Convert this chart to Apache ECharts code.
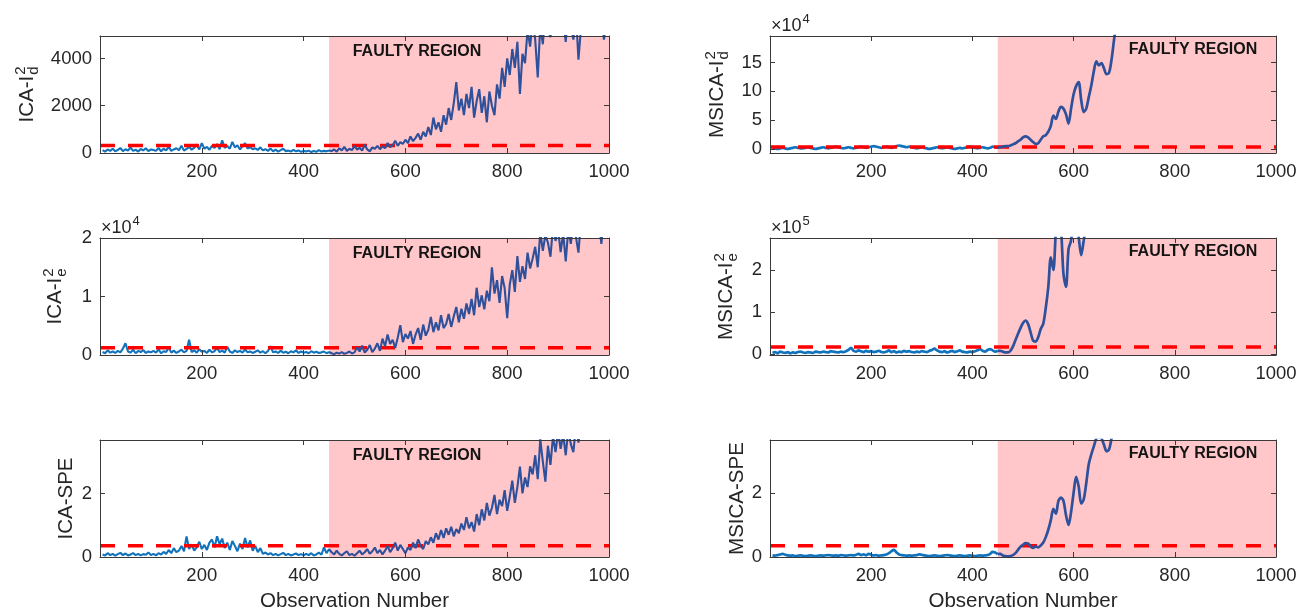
<!DOCTYPE html>
<html><head><meta charset="utf-8">
<script src="https://cdn.jsdelivr.net/npm/echarts@6/dist/echarts.min.js"></script>
<style>html,body{margin:0;padding:0;background:#fff}#c{width:1303px;height:615px}</style>
</head><body><div id="c"></div>
<script>
const FONT = '"Liberation Sans", Arial, Helvetica, sans-serif';
const OBS_STEP = 5;          // one value every 5 observations
const FAULT_START = 450;
const OBS_MAX = 1000;
const X_TICKS = [200, 400, 600, 800, 1000];

// ---- ICA-Id^2 (raw) ----
const icaId2Normal = [
 120,60,150,90,180,70,130,210,80,160,100,240,90,140,60,170,110,200,80,150,
 130,90,220,70,180,110,260,90,150,200,120,310,100,170,260,140,220,360,150,420,
 180,260,140,300,210,380,160,540,220,300,180,470,240,330,150,280,420,190,250,160,
 200,130,240,110,160,90,190,70,140,60,120,180,80,100,60,130,70,110,50,90,
 60,100,40,80,50,120,60,90,70,110];
const icaId2Fault = [
 80,150,60,200,110,260,90,180,120,300,
 140,220,100,360,150,70,240,180,300,160,
 280,200,420,250,330,520,300,460,380,560,
 420,700,500,640,820,560,900,700,1100,760,
 1500,1000,1300,900,1600,1200,1900,1400,2100,3000,
 1800,2300,1600,2500,1900,2800,1500,2200,2700,1700,
 2400,1300,2600,2000,1600,2900,2300,3600,2800,4000,
 3300,4400,3600,4700,2500,4200,3800,5200,4500,5600,
 4800,3200,5400,4600,6000,5200,4900,5800,5300,6200,
 5000,5600,4700,6100,5400,4800,5900,3950,5300,6000,
 5500,6300,5100,5800,6400,5600,6100,4800,5500,6200];
const icaId2Limit = 320;
const icaId2Ticks = [0, 2000, 4000];

// ---- ICA-Ie^2 (raw) ----
const icaIe2Normal = [
 500,300,800,400,600,350,700,450,1100,2000,600,400,900,300,700,500,850,350,600,450,
 700,400,950,300,650,500,1300,400,750,350,600,900,450,700,2600,500,800,400,1000,550,
 700,350,900,450,650,1200,500,750,400,1400,600,350,800,500,700,400,950,450,600,350,
 550,800,400,650,300,700,1500,450,600,350,750,400,550,300,650,450,800,350,600,400,
 500,300,650,400,550,350,450,600,300,500];
const icaIe2Fault = [
 300,150,400,250,500,200,350,600,250,450,
 1300,600,1600,400,900,1700,500,1100,2000,700,
 2800,1500,3500,1900,2600,1200,3000,5100,2200,3600,
 2800,4100,1900,3500,4600,2600,5200,3300,4300,6500,
 3900,5600,4200,6800,4600,5300,7000,4800,6600,8200,
 5600,7900,6200,8800,7000,9600,6800,11500,8200,10200,
 7800,11000,9200,15000,10500,12800,8900,13500,11400,6300,
 12000,14500,10800,16900,12500,15200,13000,17500,14800,16500,
 18500,15000,21000,17800,20500,19200,16800,22000,19500,21500,
 17600,20800,16000,21500,19000,22500,20200,17500,23000,21000,
 22500,20500,23500,21800,24000,22800,19000,23500,24500,22000];
const icaIe2Limit = 1250;
const icaIe2Ticks = [0, 10000, 20000];

// ---- ICA-SPE ----
const icaSpeNormal = [
 0.08,0.05,0.12,0.06,0.10,0.04,0.09,0.13,0.06,0.11,0.05,0.08,0.12,0.06,0.10,0.05,0.09,0.07,0.14,0.06,
 0.10,0.05,0.12,0.08,0.16,0.10,0.22,0.12,0.28,0.15,0.20,0.35,0.18,0.65,0.25,0.40,0.20,0.30,0.48,0.25,
 0.38,0.22,0.45,0.55,0.30,0.65,0.40,0.58,0.28,0.45,0.22,0.50,0.35,0.18,0.42,0.25,0.60,0.30,0.52,0.20,
 0.35,0.15,0.28,0.10,0.14,0.08,0.12,0.06,0.10,0.05,0.09,0.13,0.06,0.10,0.05,0.08,0.11,0.06,0.09,0.05,
 0.10,0.06,0.12,0.05,0.08,0.14,0.07,0.30,0.12,0.25];
const icaSpeFault = [
 0.15,0.08,0.20,0.10,0.05,0.12,0.18,0.06,0.10,0.04,
 0.12,0.20,0.08,0.15,0.25,0.10,0.18,0.30,0.12,0.22,
 0.08,0.20,0.35,0.15,0.28,0.45,0.20,0.38,0.25,0.12,
 0.30,0.22,0.45,0.28,0.55,0.35,0.25,0.50,0.40,0.62,
 0.45,0.75,0.55,0.85,0.60,0.90,0.70,0.95,0.65,0.88,
 0.75,1.05,0.85,1.25,0.90,1.10,0.80,1.35,1.00,1.50,
 1.15,1.70,1.30,1.55,1.95,1.35,1.80,1.60,2.10,1.45,
 1.90,2.40,1.70,2.20,2.84,2.00,2.50,2.20,2.85,2.60,
 3.20,2.45,3.70,3.00,2.37,3.50,2.90,3.80,3.30,3.95,
 3.40,3.85,3.20,4.00,3.55,3.30,4.10,3.60,4.20,3.90,
 4.30,4.00,4.50,4.20,4.60,4.35,4.70,4.40,4.80,4.55];
const icaSpeLimit = 0.35;
const icaSpeTicks = [0, 2];

// ---- MSICA-Id^2 (x 10^4) ----
const msicaId2Normal = [
 0.2,0.1,0.0,0.1,0.2,0.1,0.0,0.1,0.2,0.3,0.2,0.1,0.1,0.2,0.3,0.2,0.1,0.0,0.1,0.2,
 0.3,0.2,0.1,0.2,0.3,0.4,0.3,0.2,0.1,0.2,0.3,0.2,0.1,0.2,0.3,0.4,0.3,0.2,0.3,0.4,
 0.5,0.4,0.3,0.2,0.3,0.4,0.3,0.2,0.3,0.5,0.6,0.5,0.4,0.3,0.4,0.3,0.2,0.1,0.2,0.3,
 0.2,0.1,0.0,0.1,0.2,0.3,0.2,0.1,0.2,0.3,0.2,0.1,0.0,0.1,0.2,0.1,0.2,0.3,0.4,0.3,
 0.2,0.1,0.2,0.3,0.2,0.1,0.2,0.4,0.3,0.2];
const msicaId2Fault = [
 0.3,0.4,0.5,0.5,0.6,0.8,1.0,1.3,1.6,2.0,
 2.2,2.0,1.6,1.2,0.9,1.0,1.6,2.2,2.4,3.0,
 4.0,5.8,5.2,6.5,7.3,7.0,6.0,4.4,7.0,9.5,
 10.9,11.6,8.5,6.4,7.0,9.0,11.0,13.5,15.2,14.5,
 14.9,14.0,13.0,13.2,15.5,19.0,22.0,24.0,26.0,28.0,
 30,32,31,34,36,35,38,40,39,42,
 44,43,46,48,47,50,52,51,54,56,
 55,58,60,59,62,64,63,66,68,67,
 70,72,71,74,76,75,78,80,79,82,
 84,83,86,88,87,90,92,91,94,96,
 95,98,100,99,102,104,103,106,108,107];
const msicaId2Limit = 0.35;
const msicaId2Ticks = [0, 5, 10, 15];

// ---- MSICA-Ie^2 (x 10^5) ----
const msicaIe2Normal = [
 0.03,0.05,0.02,0.06,0.04,0.03,0.05,0.02,0.04,0.03,0.05,0.06,0.04,0.03,0.05,0.04,0.03,0.06,0.05,0.04,
 0.06,0.05,0.04,0.07,0.06,0.05,0.04,0.06,0.05,0.07,0.10,0.15,0.08,0.06,0.09,0.07,0.05,0.08,0.06,0.07,
 0.05,0.06,0.08,0.05,0.04,0.06,0.09,0.05,0.07,0.04,0.06,0.05,0.08,0.06,0.07,0.05,0.04,0.06,0.05,0.07,
 0.06,0.05,0.08,0.10,0.13,0.09,0.06,0.05,0.07,0.04,0.06,0.08,0.05,0.07,0.09,0.06,0.05,0.04,0.06,0.05,
 0.07,0.09,0.12,0.08,0.06,0.10,0.12,0.09,0.06,0.08];
const msicaIe2Fault = [
 0.08,0.06,0.04,0.04,0.08,0.18,0.33,0.48,0.62,0.74,
 0.80,0.72,0.52,0.32,0.30,0.40,0.60,0.72,1.10,1.60,
 2.30,2.00,2.90,3.30,3.00,1.90,1.60,2.50,2.70,3.20,
 3.40,2.80,2.35,2.70,3.10,3.50,3.80,4.00,4.30,4.50,
 4.7,4.9,5.1,5.0,5.3,5.5,5.4,5.7,5.9,6.1,
 6.0,6.3,6.5,6.4,6.7,6.9,6.8,7.1,7.3,7.2,
 7.5,7.7,7.6,7.9,8.1,8.0,8.3,8.5,8.4,8.7,
 8.9,8.8,9.1,9.3,9.2,9.5,9.7,9.6,9.9,10.1,
 10.0,10.3,10.5,10.4,10.7,10.9,10.8,11.1,11.3,11.2,
 11.5,11.7,11.6,11.9,12.1,12.0,12.3,12.5,12.4,12.7,
 12.9,12.8,13.1,13.3,13.2,13.5,13.7,13.6,13.9,14.1];
const msicaIe2Limit = 0.17;
const msicaIe2Ticks = [0, 1, 2];

// ---- MSICA-SPE ----
const msicaSpeNormal = [
 0.05,0.04,0.06,0.08,0.10,0.07,0.05,0.04,0.05,0.03,0.04,0.05,0.04,0.03,0.04,0.05,0.04,0.03,0.04,0.05,
 0.04,0.05,0.06,0.05,0.04,0.05,0.04,0.06,0.05,0.04,0.05,0.06,0.05,0.07,0.10,0.06,0.08,0.05,0.10,0.07,
 0.05,0.06,0.04,0.05,0.06,0.08,0.12,0.18,0.22,0.14,0.08,0.06,0.05,0.04,0.05,0.04,0.05,0.06,0.08,0.07,
 0.05,0.04,0.03,0.04,0.05,0.04,0.03,0.04,0.05,0.06,0.05,0.04,0.03,0.04,0.05,0.04,0.03,0.04,0.05,0.04,
 0.03,0.04,0.05,0.04,0.05,0.06,0.10,0.16,0.14,0.09];
const msicaSpeFault = [
 0.10,0.05,0.03,0.02,0.03,0.06,0.12,0.22,0.32,0.38,
 0.43,0.42,0.33,0.28,0.33,0.30,0.36,0.45,0.62,0.85,
 1.15,1.50,1.35,1.75,1.85,1.75,1.30,1.00,1.40,2.00,
 2.50,2.20,1.67,1.80,2.30,2.90,3.20,3.45,3.70,3.75,
 3.70,3.50,3.30,3.35,3.70,4.00,4.30,4.50,4.80,5.00,
 5.2,5.4,5.5,5.7,5.9,6.0,6.2,6.4,6.5,6.7,
 6.9,7.0,7.2,7.4,7.5,7.7,7.9,8.0,8.2,8.4,
 8.5,8.7,8.9,9.0,9.2,9.4,9.5,9.7,9.9,10.0,
 10.2,10.4,10.5,10.7,10.9,11.0,11.2,11.4,11.5,11.7,
 11.9,12.0,12.2,12.4,12.5,12.7,12.9,13.0,13.2,13.4,
 13.5,13.7,13.9,14.0,14.2,14.4,14.5,14.7,14.9,15.0];
const msicaSpeLimit = 0.35;
const msicaSpeTicks = [0, 2];

// ---------------- layout / styles ----------------
const PINK = '#ffc7c9';
const C_NORMAL = '#1273bd';
const C_FAULT = '#2f509b';
const C_LIMIT = '#ff0000';
const C_AXIS = '#3a3a3a';
const C_TEXT = '#262626';
const GRID_LEFT = [100, 770];
const GRID_WIDTH = [509, 506];
const GRID_TOP = [36, 238, 440];
const GRID_HEIGHT = 117;

const panels = [
  {title:{body:'ICA-I',sup:'2',sub:'d'}, normal:icaId2Normal, fault:icaId2Fault, limit:icaId2Limit, ticks:icaId2Ticks, yMin:0, yMax:4950, div:1, exp:null, lw:2.1, smooth:false, col:0, row:0, titleX:27},
  {title:{body:'ICA-I',sup:'2',sub:'e'}, normal:icaIe2Normal, fault:icaIe2Fault, limit:icaIe2Limit, ticks:icaIe2Ticks, yMin:0, yMax:20000, div:10000, exp:'4', lw:2.1, smooth:false, col:0, row:1, titleX:55},
  {title:{body:'ICA-SPE'}, normal:icaSpeNormal, fault:icaSpeFault, limit:icaSpeLimit, ticks:icaSpeTicks, yMin:0, yMax:3.68, div:1, exp:null, lw:2.1, smooth:false, col:0, row:2, titleX:66},
  {title:{body:'MSICA-I',sup:'2',sub:'d'}, normal:msicaId2Normal, fault:msicaId2Fault, limit:msicaId2Limit, ticks:msicaId2Ticks, yMin:-0.7, yMax:19.6, div:1, exp:'4', lw:2.7, smooth:0.3, col:1, row:0, titleX:717},
  {title:{body:'MSICA-I',sup:'2',sub:'e'}, normal:msicaIe2Normal, fault:msicaIe2Fault, limit:msicaIe2Limit, ticks:msicaIe2Ticks, yMin:-0.02, yMax:2.76, div:1, exp:'5', lw:2.7, smooth:0.3, col:1, row:1, titleX:726},
  {title:{body:'MSICA-SPE'}, normal:msicaSpeNormal, fault:msicaSpeFault, limit:msicaSpeLimit, ticks:msicaSpeTicks, yMin:0, yMax:3.65, div:1, exp:null, lw:2.7, smooth:0.3, col:1, row:2, titleX:737}
];

const ctx = document.createElement('canvas').getContext('2d');
function textW(t, size, weight) { ctx.font = (weight||'normal') + ' ' + size + 'px ' + FONT; return ctx.measureText(t).width; }
function txt(t, x, y, size, align, valign, weight, color) {
  return {type:'text', x, y, silent:true, style:{text:t, x:0, y:0, fill:color||C_TEXT, font:(weight||'normal')+' '+size+'px '+FONT,
    fontSize:size, fontFamily:FONT, fontWeight:weight||'normal', align, verticalAlign:valign, textAlign:align, textVerticalAlign:valign}};
}

const grids=[], xAxes=[], yAxes=[], series=[], graphics=[];
panels.forEach((p, i) => {
  const left = GRID_LEFT[p.col], top = GRID_TOP[p.row], w = GRID_WIDTH[p.col], h = GRID_HEIGHT;
  grids.push({left, top, width:w, height:h});
  const axisLine = {show:true, onZero:false, lineStyle:{color:C_AXIS, width:1}};
  const tick = {show:true, inside:true, length:5, lineStyle:{color:C_AXIS, width:1}};
  const lbl = {fontSize:18.5, color:C_TEXT, fontFamily:FONT};
  xAxes.push({type:'value', gridIndex:i, min:0, max:OBS_MAX, position:'bottom', z:10, axisLine,
    axisTick:{...tick, customValues:X_TICKS},
    axisLabel:{...lbl, margin:9, customValues:X_TICKS, formatter:v => String(v)},
    splitLine:{show:false},
    name: p.row === 2 ? 'Observation Number' : '', nameLocation:'middle', nameGap:34,
    nameTextStyle:{fontSize:20.5, color:C_TEXT, fontFamily:FONT}});
  xAxes.push({type:'value', gridIndex:i, min:0, max:OBS_MAX, position:'top', z:10, axisLine,
    axisTick:{...tick, customValues:X_TICKS}, axisLabel:{show:false}, splitLine:{show:false}});
  yAxes.push({type:'value', gridIndex:i, min:p.yMin, max:p.yMax, position:'left', z:10, axisLine,
    axisTick:{...tick, customValues:p.ticks},
    axisLabel:{...lbl, margin:8, customValues:p.ticks, formatter:v => String(Math.round(v / p.div * 1000) / 1000)},
    splitLine:{show:false}});
  yAxes.push({type:'value', gridIndex:i, min:p.yMin, max:p.yMax, position:'right', z:10, axisLine,
    axisTick:{...tick, customValues:p.ticks}, axisLabel:{show:false}, splitLine:{show:false}});
  const xi = 2*i, yi = 2*i;
  const normalData = p.normal.map((v, k) => [(k + 1) * OBS_STEP, v]);
  const faultData = [normalData[normalData.length - 1]].concat(p.fault.map((v, k) => [FAULT_START + (k + 1) * OBS_STEP, v]));
  series.push({type:'line', xAxisIndex:xi, yAxisIndex:yi, data:[], silent:true, z:1, symbol:'none',
    markArea:{silent:true, itemStyle:{color:PINK}, data:[[{xAxis:FAULT_START},{xAxis:OBS_MAX}]]}});
  series.push({type:'line', xAxisIndex:xi, yAxisIndex:yi, data:normalData, symbol:'none', smooth:p.smooth, z:2, silent:true,
    lineStyle:{color:C_NORMAL, width:p.lw}});
  series.push({type:'line', xAxisIndex:xi, yAxisIndex:yi, data:[[0, p.limit],[OBS_MAX, p.limit]], symbol:'none', z:3, silent:true,
    lineStyle:{color:C_LIMIT, width:3.5, type:[15,13]}});
  series.push({type:'line', xAxisIndex:xi, yAxisIndex:yi, data:faultData, symbol:'none', smooth:p.smooth, z:4, silent:true,
    lineStyle:{color:C_FAULT, width:p.lw}});

  // y title (rotated, with stacked sup/sub)
  const bodyW = textW(p.title.body, 20.5);
  const supW = p.title.sup ? Math.max(textW(p.title.sup, 15), textW(p.title.sub, 15)) + 1 : 0;
  const x0 = -(bodyW + supW) / 2;
  const children = [txt(p.title.body, x0, 0, 20.5, 'left', 'middle')];
  if (p.title.sup) {
    children.push(txt(p.title.sup, x0 + bodyW + 1, -6, 15, 'left', 'middle'));
    children.push(txt(p.title.sub, x0 + bodyW + 1, 7, 15, 'left', 'middle'));
  }
  graphics.push({type:'group', x:p.titleX, y:top + h/2, rotation:Math.PI/2, children});

  // exponent label
  if (p.exp) {
    const w10 = textW('×10', 18);
    graphics.push(txt('×10', left + 1, top - 10, 18, 'left', 'middle'));
    graphics.push(txt(p.exp, left + 2 + w10, top - 17, 13, 'left', 'middle'));
  }
  // FAULTY REGION label
  const fx = p.col === 0 ? left + 317 : left + 423;
  const fy = p.col === 0 ? top + 16 : top + 14;
  graphics.push({...txt('FAULTY REGION', fx, fy, 16, 'center', 'middle', 'bold', '#141414'), z:20});
});

const chart = echarts.init(document.getElementById('c'), null, {renderer:'canvas'});
chart.setOption({
  animation:false,
  backgroundColor:'#ffffff',
  grid:grids, xAxis:xAxes, yAxis:yAxes, series,
  graphic:{elements:graphics}
});
</script></body></html>
